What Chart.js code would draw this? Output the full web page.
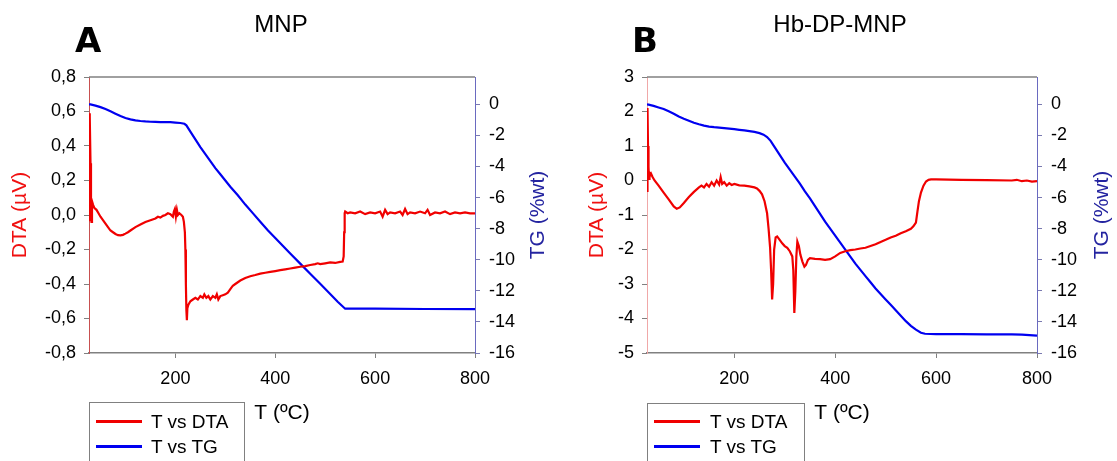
<!DOCTYPE html>
<html>
<head>
<meta charset="utf-8">
<script src="https://cdn.jsdelivr.net/npm/chart.js@4.4.1/dist/chart.umd.min.js"></script>
<style>
body { margin:0; width:1117px; height:461px; overflow:hidden; background:#fff; position:relative; font-family:"Liberation Sans", Arial, sans-serif; }
canvas { position:absolute; top:0; }
#cA { left:0; }
#cB { left:558px; }
.letter { position:absolute; font-family:"DejaVu Sans", sans-serif; font-weight:bold; font-size:34px; line-height:1; }
.ptitle { position:absolute; font-size:24px; line-height:1; transform:translateX(-50%); white-space:nowrap; }
.lgbox { position:absolute; border:1.5px solid #808080; height:90px; box-sizing:border-box; }
.lgline { position:absolute; height:3px; width:46px; }
.lgtext { position:absolute; font-size:19px; line-height:1; white-space:nowrap; }
</style>
</head>
<body>
<canvas id="cA" width="558" height="461"></canvas>
<canvas id="cB" width="559" height="461"></canvas>
<div class="letter" style="left:75px; top:23px;">A</div>
<div class="letter" style="left:632px; top:23px;">B</div>
<div class="ptitle" style="left:281px; top:12px;">MNP</div>
<div class="ptitle" style="left:840px; top:12px;">Hb-DP-MNP</div>
<div id="legA"></div>
<div id="legB"></div>
<script>
// ======== DATI ========
const xTicks = [200, 400, 600, 800];
const dtaTicksA = [0.8, 0.6, 0.4, 0.2, 0.0, -0.2, -0.4, -0.6, -0.8];
const dtaTicksB = [3, 2, 1, 0, -1, -2, -3, -4, -5];
const tgTicks = [0, -2, -4, -6, -8, -10, -12, -14, -16];
const seriesNames = ['T vs DTA', 'T vs TG'];

// pannello A - MNP
const tDtaA = [27, 28, 29, 30, 31, 32, 33, 35, 38, 42, 46, 50, 55, 60, 65, 70, 75, 80, 85, 90, 95, 100, 105, 110, 120, 130, 140, 150, 160, 165, 170, 175, 180, 185, 190, 195, 197, 199, 201, 203, 205, 208, 212, 215, 217, 219, 220, 221, 222, 223, 224, 226, 230, 235, 240, 245, 250, 255, 258, 262, 266, 270, 275, 280, 283, 286, 290, 295, 300, 305, 310, 315, 320, 330, 340, 350, 360, 370, 380, 390, 400, 410, 420, 430, 440, 450, 460, 470, 480, 485, 490, 500, 510, 520, 530, 535, 537, 538, 539, 540, 545, 550, 560, 570, 580, 590, 600, 610, 615, 620, 625, 630, 640, 650, 655, 660, 665, 670, 680, 690, 700, 705, 710, 720, 730, 740, 750, 760, 770, 780, 790, 800];
const dtaA = [-0.03, 0.59, 0.57, 0.30, 0.04, -0.04, 0.08, 0.06, 0.04, 0.03, 0.01, -0.01, -0.03, -0.05, -0.07, -0.09, -0.10, -0.11, -0.117, -0.118, -0.115, -0.108, -0.10, -0.09, -0.07, -0.055, -0.04, -0.03, -0.02, -0.01, -0.015, -0.005, 0.0, 0.01, 0.005, -0.01, 0.02, 0.035, -0.01, 0.03, 0.0, 0.01, 0.0, -0.01, -0.04, -0.1, -0.2, -0.4, -0.55, -0.61, -0.54, -0.52, -0.50, -0.49, -0.48, -0.49, -0.47, -0.48, -0.46, -0.48, -0.47, -0.49, -0.47, -0.48, -0.46, -0.49, -0.47, -0.465, -0.46, -0.45, -0.43, -0.41, -0.40, -0.38, -0.365, -0.355, -0.348, -0.34, -0.335, -0.33, -0.325, -0.32, -0.315, -0.31, -0.305, -0.30, -0.296, -0.29, -0.285, -0.28, -0.285, -0.28, -0.275, -0.278, -0.272, -0.27, -0.24, -0.1, 0.01, 0.02, 0.01, 0.015, 0.01, 0.02, 0.005, 0.015, 0.01, 0.02, -0.01, 0.03, 0.005, 0.015, 0.01, 0.02, 0.0, 0.035, 0.005, 0.015, 0.01, 0.02, 0.01, 0.03, 0.0, 0.015, 0.01, 0.02, 0.005, 0.015, 0.01, 0.015, 0.01, 0.01];
const tTgA = [27, 30, 40, 50, 60, 70, 80, 90, 100, 110, 120, 130, 140, 150, 160, 170, 180, 190, 200, 210, 218, 222, 230, 240, 250, 260, 270, 280, 290, 300, 310, 325, 340, 355, 370, 385, 400, 415, 430, 450, 470, 490, 510, 525, 540, 560, 600, 700, 800];
const tgA = [0.0, 0.0, -0.08, -0.18, -0.3, -0.45, -0.6, -0.75, -0.88, -0.97, -1.03, -1.07, -1.1, -1.12, -1.13, -1.14, -1.15, -1.15, -1.17, -1.2, -1.25, -1.35, -1.75, -2.25, -2.75, -3.2, -3.65, -4.1, -4.5, -4.9, -5.3, -5.85, -6.45, -7.0, -7.55, -8.1, -8.6, -9.1, -9.6, -10.25, -10.9, -11.55, -12.2, -12.7, -13.15, -13.15, -13.15, -13.17, -13.18];

// pannello B - Hb-DP-MNP
const tDtaB = [27, 28, 29, 30, 31, 32, 33, 35, 38, 42, 50, 60, 70, 80, 86, 92, 100, 110, 120, 130, 135, 140, 145, 150, 155, 160, 165, 170, 173, 176, 180, 185, 190, 195, 200, 210, 220, 230, 240, 245, 250, 255, 260, 265, 268, 271, 273, 275, 277, 279, 282, 285, 290, 295, 300, 305, 310, 315, 317, 319, 321, 323, 325, 328, 331, 335, 339, 342, 346, 350, 360, 370, 380, 390, 400, 410, 420, 430, 440, 450, 460, 470, 480, 490, 500, 510, 520, 530, 540, 550, 555, 560, 563, 566, 570, 575, 580, 585, 590, 600, 650, 700, 750, 760, 770, 780, 790, 800];
const dtaB = [-0.3, 2.1, 1.0, 0.4, 0.05, 0.25, 0.15, 0.2, 0.1, 0.0, -0.15, -0.35, -0.55, -0.75, -0.82, -0.78, -0.65, -0.48, -0.33, -0.2, -0.15, -0.2, -0.1, -0.18, -0.05, -0.15, 0.0, -0.12, 0.1, -0.1, -0.05, -0.15, -0.08, -0.13, -0.1, -0.14, -0.15, -0.17, -0.2, -0.23, -0.3, -0.4, -0.6, -0.95, -1.4, -1.95, -2.6, -3.45, -3.0, -2.0, -1.65, -1.62, -1.72, -1.82, -1.9, -1.95, -2.05, -2.2, -2.6, -3.84, -3.2, -2.2, -1.77, -1.9, -2.15, -2.35, -2.5, -2.45, -2.3, -2.25, -2.27, -2.28, -2.3, -2.28, -2.2, -2.1, -2.05, -2.02, -2.0, -1.97, -1.95, -1.9, -1.85, -1.78, -1.72, -1.65, -1.6, -1.53, -1.47, -1.4, -1.33, -1.22, -0.9, -0.6, -0.35, -0.15, -0.03, 0.02, 0.03, 0.03, 0.02, 0.01, 0.0, 0.02, -0.02, 0.0, -0.03, -0.02];
const tTgB = [27, 30, 40, 50, 60, 70, 80, 90, 100, 110, 120, 130, 140, 150, 160, 170, 180, 190, 200, 210, 220, 230, 240, 250, 258, 265, 272, 280, 290, 300, 310, 320, 330, 340, 350, 360, 370, 380, 390, 400, 410, 420, 430, 440, 450, 460, 470, 480, 490, 500, 510, 520, 530, 540, 550, 560, 570, 578, 600, 650, 700, 750, 770, 800];
const tgB = [0.0, -0.02, -0.1, -0.2, -0.3, -0.45, -0.6, -0.78, -0.92, -1.05, -1.18, -1.28, -1.37, -1.43, -1.47, -1.5, -1.53, -1.56, -1.6, -1.64, -1.68, -1.72, -1.77, -1.85, -1.95, -2.1, -2.35, -2.75, -3.25, -3.75, -4.2, -4.65, -5.1, -5.6, -6.05, -6.55, -7.05, -7.55, -8.0, -8.45, -8.9, -9.35, -9.8, -10.25, -10.65, -11.05, -11.45, -11.85, -12.2, -12.55, -12.9, -13.25, -13.6, -13.95, -14.25, -14.5, -14.7, -14.76, -14.78, -14.78, -14.8, -14.8, -14.82, -14.88];

const RED = '#f00000';
const BLUE = '#0000f0';
const tickFont = { family: 'Liberation Sans', size: 18 };
const titleFont = { family: 'Liberation Sans', size: 21 };

function pairs(xs, ys) {
    return xs.map((x, i) => ({ x, y: ys[i] }));
}

// bordo superiore + titolo asse destro ruotato come in Excel
const extras = {
    id: 'extras',
    afterDraw(chart, args, opts) {
        const { ctx, chartArea: a } = chart;
        ctx.save();
        ctx.strokeStyle = '#808080';
        ctx.lineWidth = 1.5;
        ctx.beginPath();
        ctx.moveTo(a.left, a.top);
        ctx.lineTo(a.right, a.top);
        ctx.stroke();
        ctx.translate(opts.x, (a.top + a.bottom) / 2);
        ctx.rotate(-Math.PI / 2);
        ctx.font = '21px "Liberation Sans"';
        ctx.fillStyle = opts.color;
        ctx.textAlign = 'center';
        ctx.textBaseline = 'middle';
        ctx.fillText(opts.text, 0, 0);
        ctx.restore();
    }
};

function makePanel(id, p) {
    const ctx = document.getElementById(id).getContext('2d');
    return new Chart(ctx, {
        type: 'scatter',
        data: {
            datasets: [
                { label: seriesNames[0], data: pairs(p.tDta, p.dta), yAxisID: 'yL', borderColor: RED, backgroundColor: RED, borderWidth: 2.2, showLine: true, pointRadius: 0, tension: 0 },
                { label: seriesNames[1], data: pairs(p.tTg, p.tg), yAxisID: 'yR', borderColor: BLUE, backgroundColor: BLUE, borderWidth: 2.2, showLine: true, pointRadius: 0, tension: 0 }
            ]
        },
        options: {
            responsive: false,
            animation: false,
            layout: { padding: { top: 77, left: 0, right: 0, bottom: 0 } },
            plugins: {
                legend: { display: false },
                tooltip: { enabled: false },
                extras: { text: 'TG (%wt)', color: '#2424a0', x: p.rightTitleX }
            },
            scales: {
                x: {
                    type: 'linear', min: 27, max: 800,
                    afterBuildTicks: s => { s.ticks = xTicks.map(v => ({ value: v })); },
                    afterFit: s => { s.height = 108; },
                    ticks: { font: tickFont, color: '#000', padding: 10, maxRotation: 0, callback: v => String(v) },
                    grid: { display: true, drawOnChartArea: false, drawTicks: true, tickLength: 5, color: '#808080' },
                    border: { display: true, color: '#808080', width: 1.5 },
                    title: { display: true, text: 'T (ºC)', font: titleFont, color: '#000', padding: { top: 0, bottom: 35 } }
                },
                yL: {
                    type: 'linear', position: 'left', min: p.dtaTicks[p.dtaTicks.length - 1], max: p.dtaTicks[0],
                    afterBuildTicks: s => { s.ticks = p.dtaTicks.map(v => ({ value: v })); },
                    afterFit: s => { s.width = p.leftW; },
                    ticks: { font: tickFont, color: '#000', padding: 8, callback: p.fmt },
                    grid: { display: true, drawOnChartArea: false, drawTicks: true, tickLength: 5, color: '#808080' },
                    border: { display: true, color: p.leftAxisColor, width: 1 },
                    title: { display: true, text: 'DTA (µV)', font: titleFont, color: '#f01010', padding: { top: p.leftTitlePad, bottom: 0 } }
                },
                yR: {
                    type: 'linear', position: 'right', min: -16, max: 1.76,
                    afterBuildTicks: s => { s.ticks = tgTicks.map(v => ({ value: v })); },
                    afterFit: s => { s.width = p.rightW; },
                    ticks: { font: tickFont, color: '#000', padding: 9, callback: v => String(v) },
                    grid: { display: true, drawOnChartArea: false, drawTicks: true, tickLength: 5, color: '#7a7ab0' },
                    border: { display: true, color: '#6a6ac0', width: 1 }
                }
            }
        },
        plugins: [extras]
    });
}

// legenda HTML con riquadro, costruita dai dataset
function makeLegend(elId, chart, box) {
    const el = document.getElementById(elId);
    let html = `<div class="lgbox" style="left:${box.left}px; top:${box.top}px; width:${box.width}px;"></div>`;
    chart.data.datasets.forEach((ds, i) => {
        const cy = box.firstY + i * 25;
        html += `<div class="lgline" style="left:${box.lineX}px; top:${cy - 1.5}px; background:${ds.borderColor};"></div>`;
        html += `<div class="lgtext" style="left:${box.textX}px; top:${cy - 9.3}px;">${ds.label}</div>`;
    });
    el.innerHTML = html;
}

const chartA = makePanel('cA', {
    tDta: tDtaA, dta: dtaA, tTg: tTgA, tg: tgA,
    dtaTicks: dtaTicksA, fmt: v => v.toFixed(1).replace('.', ','),
    leftW: 89, rightW: 83, leftAxisColor: '#c85050', leftTitlePad: 8, rightTitleX: 538
});
const chartB = makePanel('cB', {
    tDta: tDtaB, dta: dtaB, tTg: tTgB, tg: tgB,
    dtaTicks: dtaTicksB, fmt: v => String(v),
    leftW: 89, rightW: 80, leftAxisColor: '#f0a8a8', leftTitlePad: 27, rightTitleX: 544
});

makeLegend('legA', chartA, { left: 89, top: 402, width: 156, firstY: 421, lineX: 96, textX: 151 });
makeLegend('legB', chartB, { left: 647, top: 403, width: 158, firstY: 421, lineX: 654, textX: 710 });
</script>
</body>
</html>
